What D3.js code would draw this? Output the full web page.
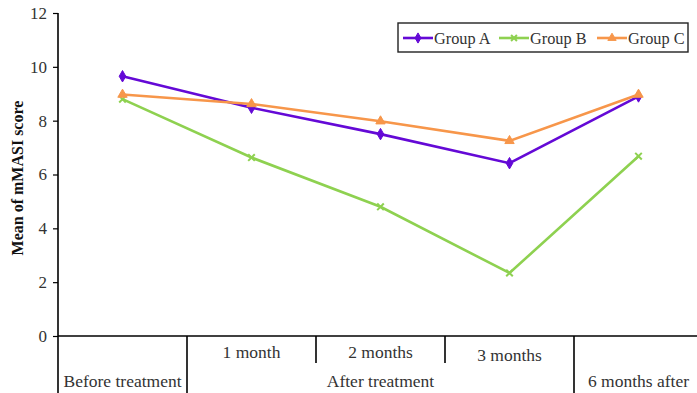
<!DOCTYPE html>
<html><head><meta charset="utf-8">
<script src="https://cdn.jsdelivr.net/npm/d3@7"></script>
<style>body{margin:0;background:#fff}svg{display:block}</style>
</head><body>
<svg id="chart" width="697" height="393"></svg>
<script>
const timepoints = ["Before treatment", "1 month", "2 months", "3 months", "6 months after"];
const groupA = [9.65, 8.48, 7.5, 6.42, 8.9];
const groupB = [8.8, 6.63, 4.8, 2.34, 6.68];
const groupC = [8.97, 8.62, 7.98, 7.25, 8.97];
const seriesNames = ["Group A", "Group B", "Group C"];
const seriesColors = ["#6409D6", "#8ED150", "#F7964A"];
const seriesSymbols = ["diamond", "cross", "triangle"];
const yTicks = [0, 2, 4, 6, 8, 10, 12];
const upperLabels = ["", "1 month", "2 months", "3 months", ""];
const lowerGroups = [
  {label: "Before treatment", from: 0, to: 0},
  {label: "After treatment", from: 1, to: 3},
  {label: "6 months after", from: 4, to: 4}
];

const svg = d3.select("#chart");
const font = "'Liberation Serif', 'Times New Roman', serif";
const fs = 17.5;
const x = d3.scaleBand().domain(timepoints).range([58, 703]);
const xc = d => x(d) + x.bandwidth() / 2;
const y = d3.scaleLinear().domain([0, 12]).range([336, 13]);

// y axis
const yAxis = svg.append("g").attr("transform", "translate(58,0)")
  .call(d3.axisLeft(y).tickValues(yTicks).tickSize(5).tickPadding(6));
yAxis.select(".domain").remove();
yAxis.selectAll("line").attr("stroke", "#000").attr("stroke-width", 1.2);
yAxis.selectAll("text").attr("font-family", font).attr("font-size", 17).attr("fill", "#333");
svg.append("line").attr("x1", 58).attr("x2", 58).attr("y1", y(12)).attr("y2", 393)
  .attr("stroke", "#000").attr("stroke-width", 1.6);
// x axis line
svg.append("line").attr("x1", 58).attr("x2", 697).attr("y1", y(0)).attr("y2", y(0))
  .attr("stroke", "#000").attr("stroke-width", 1.6);

// category dividers
timepoints.forEach((t, i) => {
  if (i === 0) return;
  const full = (i === 1 || i === 4);
  svg.append("line").attr("x1", x(t)).attr("x2", x(t))
    .attr("y1", y(0)).attr("y2", full ? 393 : 363)
    .attr("stroke", "#000").attr("stroke-width", 1.6);
});
// upper labels
timepoints.forEach((t, i) => {
  if (!upperLabels[i]) return;
  svg.append("text").attr("x", xc(t)).attr("y", i === 3 ? 361 : 358)
    .attr("text-anchor", "middle").attr("font-family", font).attr("font-size", fs)
    .attr("fill", "#333").text(upperLabels[i]);
});
lowerGroups.forEach(g => {
  const cx = (xc(timepoints[g.from]) + xc(timepoints[g.to])) / 2;
  svg.append("text").attr("x", cx).attr("y", 387)
    .attr("text-anchor", "middle").attr("font-family", font).attr("font-size", fs)
    .attr("fill", "#333").text(g.label);
});

// y title
svg.append("text").attr("transform", "translate(23,178) rotate(-90)")
  .attr("text-anchor", "middle").attr("font-family", font).attr("font-size", 16)
  .attr("font-weight", "bold").attr("fill", "#111").text("Mean of mMASI score");

// series
const data = [groupA, groupB, groupC];
const line = d3.line().x((d, i) => xc(timepoints[i])).y(d => y(d));
const symFor = s => s === "diamond" ? d3.symbolDiamond : s === "cross" ? d3.symbolTimes : d3.symbolTriangle;
data.forEach((vals, k) => {
  svg.append("path").datum(vals).attr("d", line).attr("fill", "none")
    .attr("stroke", seriesColors[k]).attr("stroke-width", 2.6);
  vals.forEach((v, i) => {
    const sym = d3.symbol().type(symFor(seriesSymbols[k])).size(seriesSymbols[k] === "cross" ? 30 : 38);
    svg.append("path").attr("d", sym())
      .attr("transform", `translate(${xc(timepoints[i])},${y(v)})`)
      .attr("fill", seriesColors[k]).attr("stroke", seriesColors[k])
      .attr("stroke-width", seriesSymbols[k] === "cross" ? 2 : 1);
  });
});

// legend
const lg = svg.append("g");
lg.append("rect").attr("x", 398).attr("y", 23).attr("width", 290).attr("height", 29)
  .attr("fill", "#fff").attr("stroke", "#222").attr("stroke-width", 1.4);
const legX = [403, 499, 597];
seriesNames.forEach((n, k) => {
  const lx = legX[k];
  lg.append("line").attr("x1", lx).attr("x2", lx + 30).attr("y1", 38).attr("y2", 38)
    .attr("stroke", seriesColors[k]).attr("stroke-width", 2.6);
  const sym = d3.symbol().type(symFor(seriesSymbols[k])).size(seriesSymbols[k] === "cross" ? 24 : 30);
  lg.append("path").attr("d", sym()).attr("transform", `translate(${lx + 15},38)`)
    .attr("fill", seriesColors[k]).attr("stroke", seriesColors[k])
    .attr("stroke-width", seriesSymbols[k] === "cross" ? 2 : 1);
  lg.append("text").attr("x", lx + 31).attr("y", 43.5).attr("font-family", font)
    .attr("font-size", 16.3).attr("fill", "#333").text(n);
});
</script>
</body></html>
